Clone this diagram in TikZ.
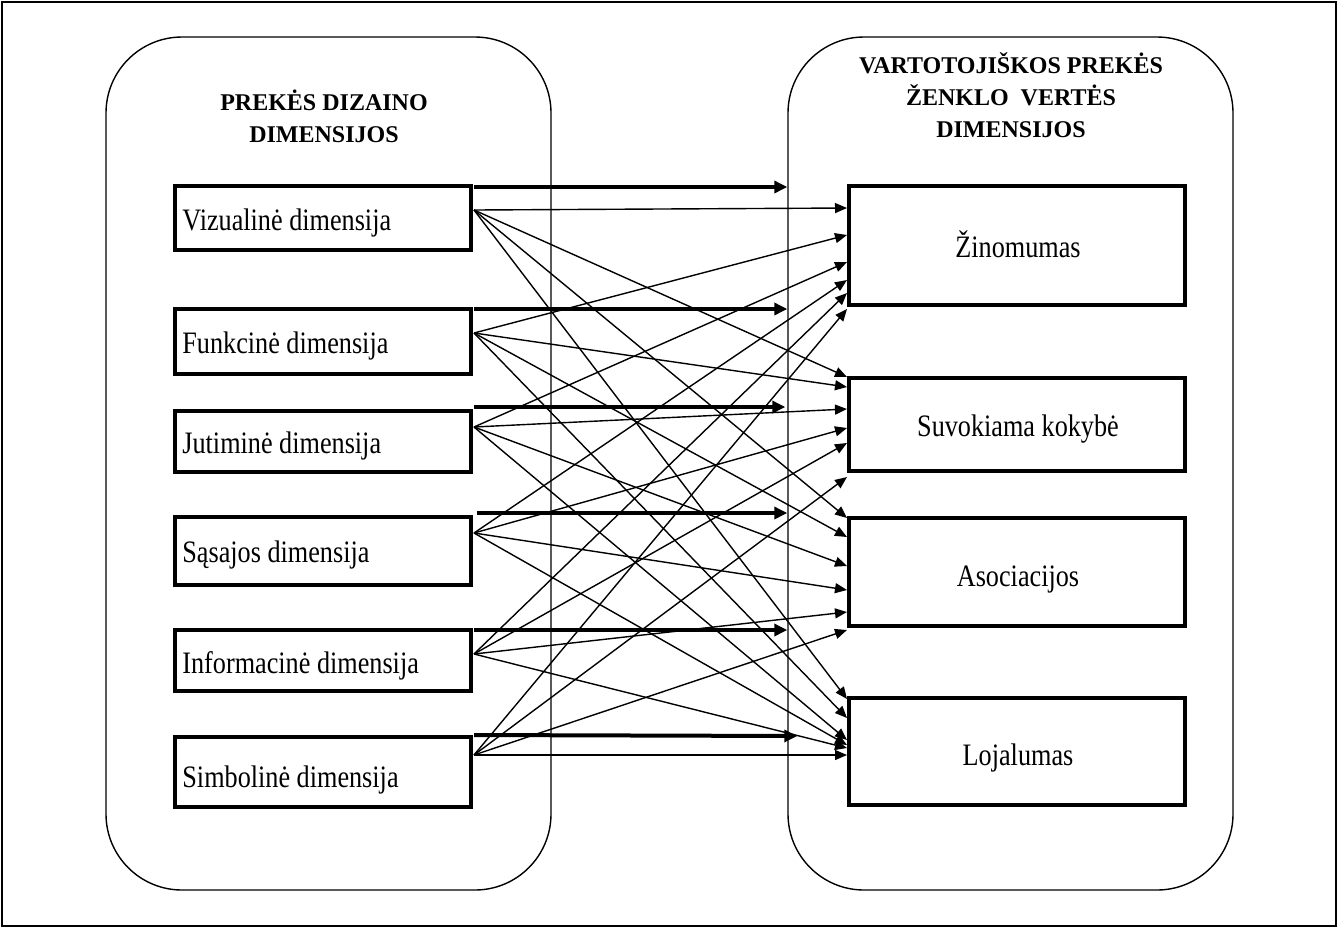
\documentclass[tikz,border=0pt]{standalone}
\usepackage{fontspec}
\setmainfont{Liberation Serif}
\newfontfamily\bodyfont[FakeStretch=0.84]{Liberation Serif}
\usetikzlibrary{arrows.meta,calc}

\begin{document}
\begin{tikzpicture}[x=0.5pt,y=-0.5pt,
  frame/.style={draw,line width=0.7pt},
  panel/.style={draw,line width=0.7pt,rounded corners=38pt,inner sep=0pt,
    minimum width=222.5pt,minimum height=426.5pt},
  dimbox/.style={draw,line width=2.2pt,inner sep=0pt,minimum width=148pt},
  valbox/.style={draw,line width=2.2pt,inner sep=0pt,minimum width=168pt},
  head/.style={font=\fontsize{12}{16}\selectfont\bfseries,align=center,anchor=base,inner sep=0pt},
  lbl/.style={font=\bodyfont\fontsize{15.6}{18}\selectfont,inner sep=0pt},
  link/.style={line width=0.7pt,-{Triangle[length=6pt,width=5pt]}},
  main/.style={line width=2pt,-{Triangle[length=6.5pt,width=6pt]}}
]
\useasboundingbox (0,0) rectangle (1338,928);
\draw[frame] (2,2) rectangle (1336,926);

% the two grouping panels (a multi-line heading sits on its last baseline)
\node[panel] (L) at (328.5,463.5) {};
\node[panel] (R) at (1010.5,463.5) {};
\node[head] (lh) at (324,142) {PREKĖS DIZAINO\\DIMENSIJOS};
\node[head] (rh) at (1011,137) {VARTOTOJIŠKOS PREKĖS\\ŽENKLO\ \ VERTĖS\\DIMENSIJOS};

% design dimensions
\node[dimbox,minimum height=32pt]   (v) at (323,218) {};
\node[dimbox,minimum height=32.5pt] (f) at (323,341.5) {};
\node[dimbox,minimum height=30.5pt] (j) at (323,441.5) {};
\node[dimbox,minimum height=34pt]   (s) at (323,551) {};
\node[dimbox,minimum height=30.5pt] (i) at (323,660.5) {};
\node[dimbox,minimum height=35pt]   (b) at (323,772) {};
\node[lbl,anchor=base west] (vl) at (182,230) {Vizualinė dimensija};
\node[lbl,anchor=base west] (fl) at (182,353) {Funkcinė dimensija};
\node[lbl,anchor=base west] (jl) at (182,453) {Jutiminė dimensija};
\node[lbl,anchor=base west] (sl) at (182,562) {Sąsajos dimensija};
\node[lbl,anchor=base west] (il) at (182,673) {Informacinė dimensija};
\node[lbl,anchor=base west] (bl) at (182,787) {Simbolinė dimensija};

% brand value dimensions
\node[valbox,minimum height=59.5pt] (Z) at (1017,245.5) {};
\node[valbox,minimum height=46.5pt] (Q) at (1017,424.5) {};
\node[valbox,minimum height=54pt]   (A) at (1017,572) {};
\node[valbox,minimum height=53.5pt] (Y) at (1017,751.5) {};
\node[lbl,anchor=base] (Zl) at (1018,257) {Žinomumas};
\node[lbl,anchor=base] (Ql) at (1018,436) {Suvokiama kokybė};
\node[lbl,anchor=base] (Al) at (1018,586) {Asociacijos};
\node[lbl,anchor=base] (Yl) at (1018,765) {Lojalumas};

% ports on the design boxes
\coordinate (vo) at (474,210);
\coordinate (fo) at (474,333);
\coordinate (jo) at (474,427);
\coordinate (so) at (474,533);
\coordinate (io) at (474,654);
\coordinate (bo) at (474,755);
\coordinate (vt) at (474,187);
\coordinate (ft) at (474,309);
\coordinate (jt) at (474,407);
\coordinate (st) at (477,513);
\coordinate (it) at (474,630);
\coordinate (bt) at (474,735);

% ports on the value boxes
\foreach \n/\y in {Z1/208,Z2/235,Z3/262,Z4/280,Z5/293,Z6/309,
                   Q1/377,Q2/387,Q3/409,Q4/428,Q5/443,Q6/477,
                   A1/518,A2/537,A3/566,A4/590,A5/612,A6/630,
                   Y1/699,Y2/718,Y3/740,Y4/745,Y5/748,Y6/755}
  \coordinate (\n) at (847,\y);

% every design dimension feeds every value dimension
\foreach \t in {Z,Q,A,Y}{
  \draw[link] (vo) -- (\t1);
  \draw[link] (fo) -- (\t2);
  \draw[link] (jo) -- (\t3);
  \draw[link] (so) -- (\t4);
  \draw[link] (io) -- (\t5);
  \draw[link] (bo) -- (\t6);
}

% bold arrows into the value panel
\draw[main] (vt) -- (vt -| R.west);
\draw[main] (ft) -- (ft -| R.west);
\draw[main] (jt) -- ($(jt -| R.west)+(-2,0)$);
\draw[main] (st) -- (st -| R.west);
\draw[main] (it) -- (it -| R.west);
\draw[main] (bt) -- ($(bt -| R.west)+(10,1)$);
\end{tikzpicture}
\end{document}
